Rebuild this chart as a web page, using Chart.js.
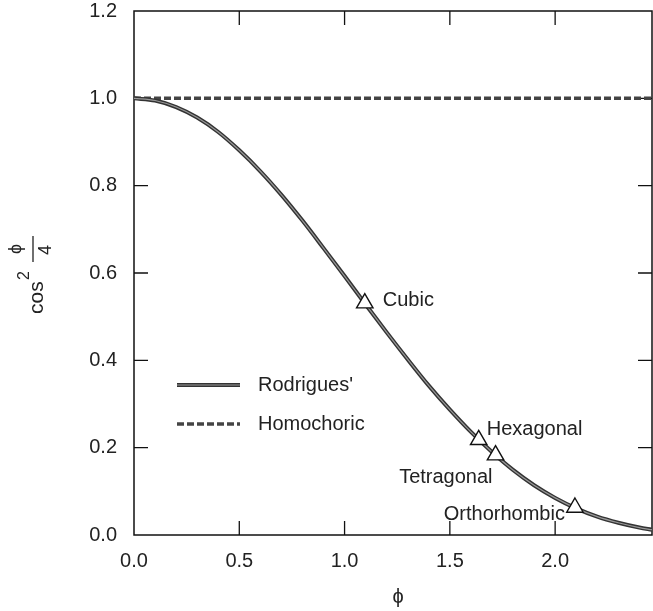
<!DOCTYPE html>
<html>
<head>
<meta charset="utf-8">
<script src="https://cdn.jsdelivr.net/npm/chart.js@4.4.1/dist/chart.umd.min.js"></script>
<style>
html,body{margin:0;padding:0;background:#fff;}
#wrap{width:653px;height:611px;position:relative;}
</style>
</head>
<body>
<div id="wrap"><canvas id="c" width="653" height="611"></canvas></div>
<script>
// ---- data ----
const phiValues = [0.0, 0.1, 0.2, 0.3, 0.4, 0.5, 0.6, 0.7, 0.8, 0.9, 1.0, 1.1, 1.2, 1.3, 1.4, 1.5, 1.6, 1.7, 1.8, 1.9, 2.0, 2.1, 2.2, 2.3, 2.4, 2.46];
const rodriguesValues = [1.000, 0.995, 0.980, 0.956, 0.923, 0.881, 0.833, 0.779, 0.720, 0.657, 0.593, 0.528, 0.464, 0.402, 0.342, 0.287, 0.236, 0.190, 0.149, 0.114, 0.085, 0.061, 0.042, 0.028, 0.017, 0.012];
const homochoricPhi = [0.0, 2.46];
const homochoricValues = [1.0, 1.0];
const symmetryLabels = ['Cubic', 'Hexagonal', 'Tetragonal', 'Orthorhombic'];
const symmetryPhi = [1.096, 1.637, 1.717, 2.094];
const symmetryValues = [0.531, 0.218, 0.183, 0.063];
const seriesNames = ["Rodrigues'", 'Homochoric'];
const xTickValues = [0.0, 0.5, 1.0, 1.5, 2.0];
const yTickValues = [0.0, 0.2, 0.4, 0.6, 0.8, 1.0, 1.2];
const xRange = [0, 2.46];
const yRange = [0, 1.2];

// ---- styling ----
const fontFamily = "'Liberation Sans', Arial, Helvetica, 'DejaVu Sans', sans-serif";
const ink = '#222';
const labelPlacement = [
  {dx: 18, dy: -3, align: 'left'},
  {dx: 8, dy: -10, align: 'left'},
  {dx: -3, dy: 22, align: 'right'},
  {dx: -10, dy: 7, align: 'right'}
];

const toXY = (xs, ys) => xs.map((v, i) => ({x: v, y: ys[i]}));

const framePlugin = {
  id: 'frame',
  beforeDatasetsDraw(chart) {
    const {ctx, chartArea: a, scales: {x, y}} = chart;
    ctx.save();
    ctx.strokeStyle = '#111';
    ctx.lineWidth = 1.5;
    ctx.strokeRect(a.left, a.top, a.right - a.left, a.bottom - a.top);
    const tl = 14;
    ctx.lineWidth = 1.3;
    ctx.beginPath();
    xTickValues.forEach(v => {
      const px = x.getPixelForValue(v);
      if (px <= a.left + 1) return;
      ctx.moveTo(px, a.bottom); ctx.lineTo(px, a.bottom - tl);
      ctx.moveTo(px, a.top); ctx.lineTo(px, a.top + tl);
    });
    yTickValues.forEach(v => {
      const py = y.getPixelForValue(v);
      if (py >= a.bottom - 1 || py <= a.top + 1) return;
      ctx.moveTo(a.left, py); ctx.lineTo(a.left + tl, py);
      ctx.moveTo(a.right, py); ctx.lineTo(a.right - tl, py);
    });
    ctx.stroke();
    ctx.restore();
  }
};

const textPlugin = {
  id: 'texts',
  afterDatasetsDraw(chart) {
    const {ctx, chartArea: a, scales: {x, y}} = chart;
    ctx.save();
    ctx.fillStyle = ink;
    ctx.font = '20px ' + fontFamily;
    ctx.textBaseline = 'middle';
    // symmetry labels
    symmetryLabels.forEach((t, i) => {
      const p = labelPlacement[i];
      ctx.textAlign = p.align;
      ctx.fillText(t, x.getPixelForValue(symmetryPhi[i]) + p.dx, y.getPixelForValue(symmetryValues[i]) + p.dy);
    });
    // legend
    const lx0 = a.left + 43, lx1 = a.left + 106, tx = a.left + 124;
    const ly = [a.top + 374, a.top + 413];
    ctx.lineCap = 'butt';
    ctx.strokeStyle = '#333'; ctx.lineWidth = 4;
    ctx.beginPath(); ctx.moveTo(lx0, ly[0]); ctx.lineTo(lx1, ly[0]); ctx.stroke();
    ctx.strokeStyle = '#999'; ctx.lineWidth = 1.2;
    ctx.beginPath(); ctx.moveTo(lx0, ly[0]); ctx.lineTo(lx1, ly[0]); ctx.stroke();
    ctx.strokeStyle = '#444'; ctx.lineWidth = 3.5; ctx.setLineDash([7, 3]);
    ctx.beginPath(); ctx.moveTo(lx0, ly[1]); ctx.lineTo(lx1, ly[1]); ctx.stroke();
    ctx.setLineDash([]);
    ctx.textAlign = 'left';
    ctx.fillText(seriesNames[0], tx, ly[0]);
    ctx.fillText(seriesNames[1], tx, ly[1]);
    // x axis title
    ctx.textAlign = 'center';
    ctx.fillText('\u03D5', 398, 597);
    // y axis title (rotated)
    ctx.rotate(-Math.PI / 2);
    ctx.textBaseline = 'alphabetic';
    ctx.textAlign = 'left';
    ctx.font = '21px ' + fontFamily;
    ctx.fillText('cos', -314, 43);
    ctx.font = '16px ' + fontFamily;
    ctx.fillText('2', -280, 29);
    ctx.strokeStyle = ink; ctx.lineWidth = 1.3;
    ctx.beginPath(); ctx.moveTo(-262, 33); ctx.lineTo(-236, 33); ctx.stroke();
    ctx.font = '18px ' + fontFamily;
    ctx.textAlign = 'center';
    ctx.textBaseline = 'middle';
    ctx.fillText('\u03D5', -249, 16);
    ctx.fillText('4', -250, 46);
    ctx.restore();
  }
};

new Chart(document.getElementById('c'), {
  type: 'scatter',
  data: {
    datasets: [
      {
        label: 'symmetry',
        data: toXY(symmetryPhi, symmetryValues),
        showLine: false,
        pointStyle: 'triangle',
        pointRadius: 9.5,
        pointBackgroundColor: '#fff',
        pointBorderColor: '#111',
        pointBorderWidth: 1.4,
        order: 0
      },
      {
        label: seriesNames[0] + ' core',
        data: toXY(phiValues, rodriguesValues),
        showLine: true,
        borderColor: '#999',
        borderWidth: 1.2,
        pointRadius: 0,
        cubicInterpolationMode: 'monotone',
        order: 1
      },
      {
        label: seriesNames[0],
        data: toXY(phiValues, rodriguesValues),
        showLine: true,
        borderColor: '#333',
        borderWidth: 4,
        pointRadius: 0,
        cubicInterpolationMode: 'monotone',
        order: 2
      },
      {
        label: seriesNames[1],
        data: toXY(homochoricPhi, homochoricValues),
        showLine: true,
        borderColor: '#444',
        borderWidth: 3.5,
        borderDash: [7, 3],
        pointRadius: 0,
        order: 3
      }
    ]
  },
  options: {
    responsive: false,
    devicePixelRatio: 1,
    animation: false,
    events: [],
    layout: {autoPadding: false, padding: {top: 11, right: 1, left: 0, bottom: 0}},
    plugins: {legend: {display: false}, tooltip: {enabled: false}},
    scales: {
      x: {
        type: 'linear',
        min: xRange[0], max: xRange[1],
        grid: {display: false, drawTicks: false},
        border: {display: false},
        afterBuildTicks: s => { s.ticks = xTickValues.map(v => ({value: v})); },
        afterFit: s => { s.height = 76; s.paddingLeft = 0; s.paddingRight = 0; },
        ticks: {
          padding: 14,
          color: ink,
          font: {family: fontFamily, size: 20},
          maxRotation: 0,
          callback: v => Number(v).toFixed(1)
        }
      },
      y: {
        type: 'linear',
        min: yRange[0], max: yRange[1],
        grid: {display: false, drawTicks: false},
        border: {display: false},
        afterBuildTicks: s => { s.ticks = yTickValues.map(v => ({value: v})); },
        afterFit: s => { s.width = 134; s.paddingTop = 0; s.paddingBottom = 0; },
        ticks: {
          padding: 17,
          color: ink,
          font: {family: fontFamily, size: 20},
          callback: v => Number(v).toFixed(1)
        }
      }
    }
  },
  plugins: [framePlugin, textPlugin]
});
</script>
</body>
</html>
